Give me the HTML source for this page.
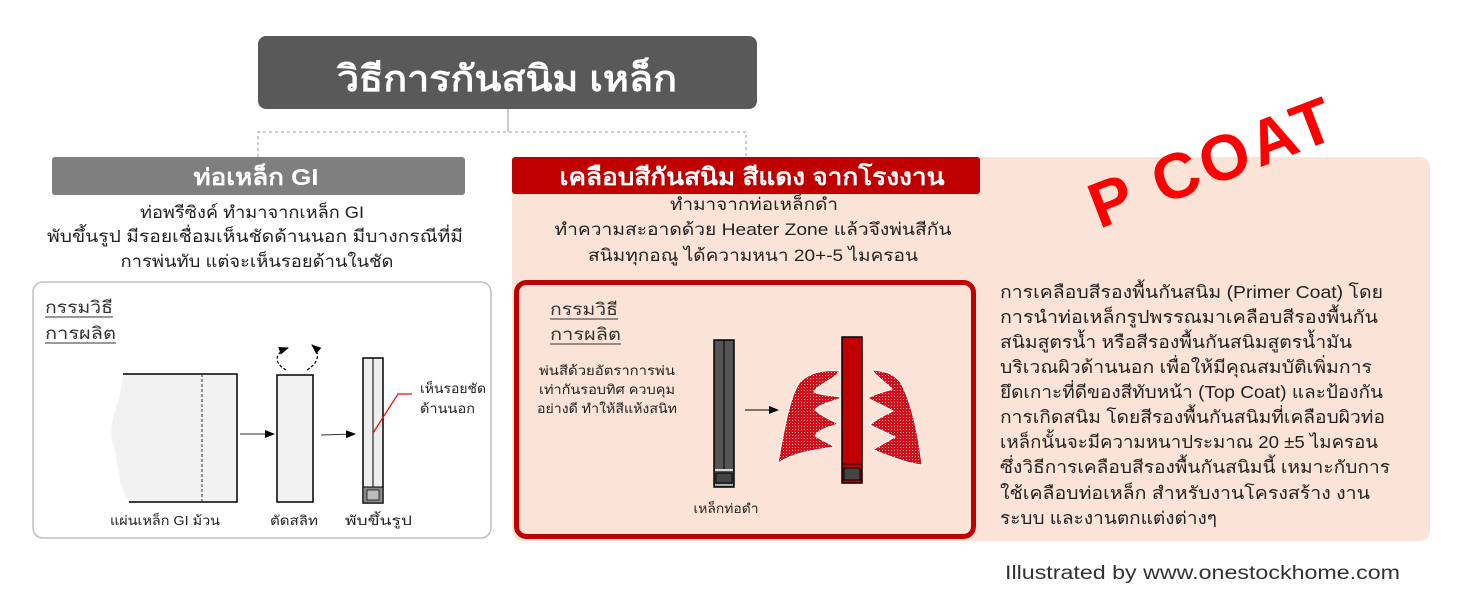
<!DOCTYPE html>
<html><head><meta charset="utf-8"><style>
html,body{margin:0;padding:0;background:#fff;}
svg{display:block;font-family:"Liberation Sans","DejaVu Sans",sans-serif;}
</style></head><body>
<svg width="1459" height="614" viewBox="0 0 1459 614" xmlns="http://www.w3.org/2000/svg">
<defs>
<pattern id="chk" width="3" height="3" patternUnits="userSpaceOnUse"><rect width="3" height="3" fill="#d0101a"/><rect width="1" height="1" fill="#f3b0b0"/></pattern>
<marker id="ar" markerWidth="10" markerHeight="10" refX="9" refY="5" orient="auto" markerUnits="userSpaceOnUse"><path d="M0,1 L10,5 L0,9 z" fill="#000"/></marker>
</defs>
<!-- title -->
<rect x="258" y="36" width="499" height="73" rx="8" fill="#595959"/>
<text x="507" y="91" font-size="36" font-weight="bold" fill="#fff" text-anchor="middle" textLength="340" lengthAdjust="spacingAndGlyphs">วิธีการกันสนิม เหล็ก</text>
<line x1="508" y1="109" x2="508" y2="132" stroke="#999" stroke-width="1"/>
<path d="M258,157 V132 H746 V157" fill="none" stroke="#999" stroke-dasharray="3,3"/>
<!-- right panel -->
<rect x="512" y="157" width="918" height="384" rx="10" fill="#fbe4d7"/>
<rect x="512" y="157" width="468" height="37" rx="3" fill="#c00000"/>
<text x="752" y="185" font-size="24" font-weight="bold" fill="#fff" text-anchor="middle" textLength="385" lengthAdjust="spacingAndGlyphs">เคลือบสีกันสนิม สีแดง จากโรงงาน</text>
<g font-size="17" fill="#222" text-anchor="middle">
<text x="754" y="210" textLength="168" lengthAdjust="spacingAndGlyphs">ทำมาจากท่อเหล็กดำ</text>
<text x="753" y="235" textLength="397" lengthAdjust="spacingAndGlyphs">ทำความสะอาดด้วย Heater Zone แล้วจึงพ่นสีกัน</text>
<text x="753" y="261" textLength="330" lengthAdjust="spacingAndGlyphs">สนิมทุกอณู ได้ความหนา 20+-5 ไมครอน</text>
</g>
<!-- P COAT -->
<text x="1212" y="184" font-size="64" font-weight="bold" fill="#ff0000" text-anchor="middle" transform="rotate(-21 1212 160)" letter-spacing="4">P COAT</text>
<!-- GI header -->
<rect x="52" y="157" width="413" height="38" rx="3" fill="#7f7f7f"/>
<text x="256" y="185" font-size="23" font-weight="bold" fill="#fff" text-anchor="middle" textLength="125" lengthAdjust="spacingAndGlyphs">ท่อเหล็ก GI</text>
<g font-size="17" fill="#222" text-anchor="middle">
<text x="252" y="218" textLength="224" lengthAdjust="spacingAndGlyphs">ท่อพรีซิงค์ ทำมาจากเหล็ก GI</text>
<text x="255" y="242" textLength="416" lengthAdjust="spacingAndGlyphs">พับขึ้นรูป มีรอยเชื่อมเห็นชัดด้านนอก มีบางกรณีที่มี</text>
<text x="257" y="267" textLength="273" lengthAdjust="spacingAndGlyphs">การพ่นทับ แต่จะเห็นรอยด้านในชัด</text>
</g>
<!-- left box -->
<rect x="33" y="282" width="458" height="256" rx="10" fill="#fff" stroke="#bfbfbf" stroke-width="1.5"/>
<g font-size="17" fill="#333">
<text x="45" y="313" textLength="68" lengthAdjust="spacingAndGlyphs">กรรมวิธี</text>
<line x1="45" y1="317" x2="113" y2="317" stroke="#333"/>
<text x="45" y="339" textLength="71" lengthAdjust="spacingAndGlyphs">การผลิต</text>
<line x1="45" y1="343" x2="116" y2="343" stroke="#333"/>
</g>
<path d="M123,374 H237 V502 H129 C115,480 120,460 112,440 C108,420 122,400 123,374 z" fill="#f2f2f2"/>
<path d="M123,374 H237 V502 H129" fill="none" stroke="#000" stroke-width="1.5"/>
<line x1="202" y1="374" x2="202" y2="502" stroke="#333" stroke-dasharray="3,2"/>
<line x1="240" y1="434" x2="274" y2="434" stroke="#333" marker-end="url(#ar)"/>
<rect x="277" y="375" width="36" height="127" fill="#f2f2f2" stroke="#000" stroke-width="1.5"/>
<path d="M286,370 C272,362 276,352 288,348" fill="none" stroke="#000" stroke-dasharray="3,2" stroke-width="1.2" marker-end="url(#ar)"/>
<path d="M307,370 C320,362 320,352 312,345" fill="none" stroke="#000" stroke-dasharray="3,2" stroke-width="1.2" marker-end="url(#ar)"/>
<line x1="321" y1="435" x2="355" y2="434" stroke="#333" marker-end="url(#ar)"/>
<rect x="363" y="358" width="20" height="145" fill="#eee" stroke="#000" stroke-width="1.5"/>
<line x1="373" y1="358" x2="373" y2="487" stroke="#000"/>
<rect x="363" y="487" width="20" height="16" fill="#888" stroke="#000"/>
<rect x="367" y="490" width="12" height="10" fill="#bbb" stroke="#000" stroke-width="0.7"/>
<path d="M373,433 L398,394 H412" fill="none" stroke="#ff0000" stroke-width="1.2"/>
<g font-size="13" fill="#222">
<text x="420" y="393" textLength="66" lengthAdjust="spacingAndGlyphs">เห็นรอยชัด</text>
<text x="420" y="413" textLength="55" lengthAdjust="spacingAndGlyphs">ด้านนอก</text>
<text x="110" y="525" textLength="110" lengthAdjust="spacingAndGlyphs">แผ่นเหล็ก GI ม้วน</text>
<text x="270" y="525" textLength="48" lengthAdjust="spacingAndGlyphs">ตัดสลิท</text>
<text x="345" y="525" textLength="67" lengthAdjust="spacingAndGlyphs">พับขึ้นรูป</text>
</g>
<!-- red box -->
<rect x="516.5" y="282.5" width="457" height="254" rx="10" fill="#fbe4d7" stroke="#c00000" stroke-width="5"/>
<g font-size="17" fill="#333">
<text x="550" y="315" textLength="68" lengthAdjust="spacingAndGlyphs">กรรมวิธี</text>
<line x1="550" y1="319" x2="618" y2="319" stroke="#333"/>
<text x="550" y="340" textLength="71" lengthAdjust="spacingAndGlyphs">การผลิต</text>
<line x1="550" y1="344" x2="621" y2="344" stroke="#333"/>
</g>
<g font-size="13" fill="#222" text-anchor="middle">
<text x="607" y="375" textLength="136" lengthAdjust="spacingAndGlyphs">พ่นสีด้วยอัตราการพ่น</text>
<text x="607" y="394" textLength="136" lengthAdjust="spacingAndGlyphs">เท่ากันรอบทิศ ควบคุม</text>
<text x="607" y="413" textLength="140" lengthAdjust="spacingAndGlyphs">อย่างดี ทำให้สีแห้งสนิท</text>
<text x="726" y="513" textLength="65" lengthAdjust="spacingAndGlyphs">เหล็กท่อดำ</text>
</g>
<rect x="714" y="340" width="20" height="147" fill="#555" stroke="#000" stroke-width="1.5"/>
<line x1="724" y1="340" x2="724" y2="469" stroke="#000"/>
<line x1="715" y1="470" x2="733" y2="470" stroke="#fff" stroke-width="1.5"/>
<rect x="716" y="473" width="16" height="10" fill="#444" stroke="#000"/>
<line x1="715" y1="485" x2="733" y2="485" stroke="#fff" stroke-width="1"/>
<line x1="745" y1="410" x2="778" y2="410" stroke="#000" marker-end="url(#ar)"/>
<path d="M778,463 C784,430 790,395 800,382 C812,370 830,370 840,371 C834,380 818,384 814,392 C822,396 836,395 842,398 C830,402 818,405 815,410 C824,418 832,420 838,424 C826,428 818,430 815,436 C824,442 832,444 834,447 C815,450 795,452 778,463 z" fill="url(#chk)" stroke="#fff" stroke-width="1"/>
<path d="M872,370 C886,371 896,374 902,385 C912,405 918,432 922,465 C905,463 890,456 873,450 C882,444 890,440 895,437 C885,432 876,428 870,425 C878,417 888,414 893,411 C884,406 875,402 868,398 C876,393 888,391 892,389 C885,382 876,376 872,370 z" fill="url(#chk)" stroke="#fff" stroke-width="1"/>
<rect x="842" y="337" width="20" height="146" fill="#c00000" stroke="#000" stroke-width="1.5"/>
<line x1="843" y1="464" x2="861" y2="464" stroke="#000"/>
<rect x="844" y="468" width="16" height="12" fill="#444" stroke="#000"/>
<!-- paragraph -->
<g font-size="17.5" fill="#222">
<text x="1000" y="298" textLength="383" lengthAdjust="spacingAndGlyphs">การเคลือบสีรองพื้นกันสนิม (Primer Coat) โดย</text>
<text x="1000" y="323" textLength="378" lengthAdjust="spacingAndGlyphs">การนำท่อเหล็กรูปพรรณมาเคลือบสีรองพื้นกัน</text>
<text x="1000" y="348" textLength="352" lengthAdjust="spacingAndGlyphs">สนิมสูตรน้ำ หรือสีรองพื้นกันสนิมสูตรน้ำมัน</text>
<text x="1000" y="373" textLength="372" lengthAdjust="spacingAndGlyphs">บริเวณผิวด้านนอก เพื่อให้มีคุณสมบัติเพิ่มการ</text>
<text x="1000" y="398" textLength="383" lengthAdjust="spacingAndGlyphs">ยึดเกาะที่ดีของสีทับหน้า (Top Coat) และป้องกัน</text>
<text x="1000" y="423" textLength="385" lengthAdjust="spacingAndGlyphs">การเกิดสนิม โดยสีรองพื้นกันสนิมที่เคลือบผิวท่อ</text>
<text x="1000" y="448" textLength="378" lengthAdjust="spacingAndGlyphs">เหล็กนั้นจะมีความหนาประมาณ 20 ±5 ไมครอน</text>
<text x="1000" y="473" textLength="390" lengthAdjust="spacingAndGlyphs">ซึ่งวิธีการเคลือบสีรองพื้นกันสนิมนี้ เหมาะกับการ</text>
<text x="1000" y="499" textLength="370" lengthAdjust="spacingAndGlyphs">ใช้เคลือบท่อเหล็ก สำหรับงานโครงสร้าง งาน</text>
<text x="1000" y="524" textLength="217" lengthAdjust="spacingAndGlyphs">ระบบ และงานตกแต่งต่างๆ</text>
</g>
<text x="1005" y="579" font-size="19" fill="#333" textLength="395" lengthAdjust="spacingAndGlyphs">Illustrated by www.onestockhome.com</text>
</svg>
</body></html>
